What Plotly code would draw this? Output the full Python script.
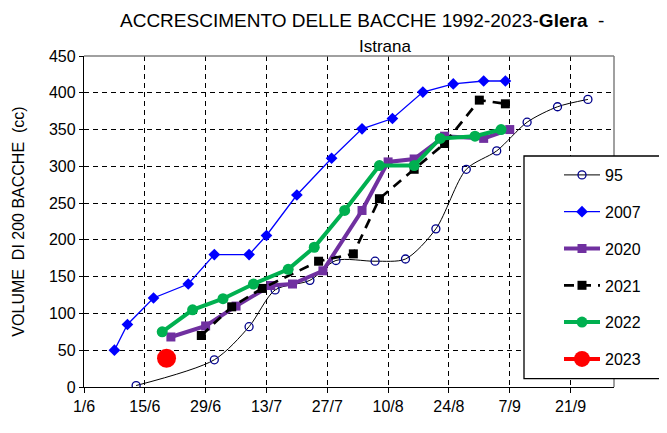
import plotly.graph_objects as go

# ---------------- data ----------------
x_95 = ["2023-06-13", "2023-07-01", "2023-07-09", "2023-07-15", "2023-07-23", "2023-07-29",
        "2023-08-07", "2023-08-14", "2023-08-21", "2023-08-28", "2023-09-04", "2023-09-11",
        "2023-09-18", "2023-09-25"]
y_95 = [2, 37, 82, 132, 145, 172, 171, 174, 215, 296, 321, 360, 381, 391]

x_2007 = ["2023-06-08", "2023-06-11", "2023-06-17", "2023-06-25", "2023-07-01", "2023-07-09",
          "2023-07-13", "2023-07-20", "2023-07-28", "2023-08-04", "2023-08-11", "2023-08-18",
          "2023-08-25", "2023-09-01", "2023-09-06"]
y_2007 = [50, 85, 121, 140, 180, 180, 206, 261, 311, 351, 365, 401, 412, 416, 416]

x_2020 = ["2023-06-21", "2023-06-29", "2023-07-06", "2023-07-14", "2023-07-19", "2023-07-26",
          "2023-08-04", "2023-08-10", "2023-08-16", "2023-08-23", "2023-09-01", "2023-09-07"]
y_2020 = [68, 83, 110, 138, 140, 158, 240, 306, 310, 341, 338, 350]

x_2021 = ["2023-06-28", "2023-07-05", "2023-07-12", "2023-07-25", "2023-08-02", "2023-08-08",
          "2023-08-16", "2023-08-23", "2023-08-31", "2023-09-06"]
y_2021 = [70, 109, 134, 171, 181, 256, 296, 331, 390, 385]

x_2022 = ["2023-06-19", "2023-06-26", "2023-07-03", "2023-07-10", "2023-07-18", "2023-07-24",
          "2023-07-31", "2023-08-08", "2023-08-16", "2023-08-22", "2023-08-30", "2023-09-05"]
y_2022 = [75, 105, 120, 140, 160, 190, 240, 301, 301, 338, 341, 350]

x_2023 = ["2023-06-20"]
y_2023 = [39]

tick_dates = ["2023-06-01", "2023-06-15", "2023-06-29", "2023-07-13", "2023-07-27",
              "2023-08-10", "2023-08-24", "2023-09-07", "2023-09-21"]
tick_labels = ["1/6", "15/6", "29/6", "13/7", "27/7", "10/8", "24/8", "7/9", "21/9"]
x_range = ["2023-06-01", "2023-10-01"]
y_ticks = list(range(0, 451, 50))

FONT = "Liberation Sans, Arial, sans-serif"

# screen-pixel helpers (page has an 8px body margin; plot area spans x 84..614, y 56..387 on screen)
def px(X):
    return (X - 84) / 530

def py(Y):
    return (387 - Y) / 331

fig = go.Figure()

fig.add_trace(go.Scatter(
    x=x_95, y=y_95, name="95", mode="lines+markers", legendgroup="a",
    line=dict(color="black", width=1, shape="spline", smoothing=0.8),
    marker=dict(symbol="circle-open", size=8, color="#00008B", line=dict(width=1.3, color="#00008B"))))
fig.add_trace(go.Scatter(
    x=x_2007, y=y_2007, name="2007", mode="lines+markers", legendgroup="b",
    line=dict(color="#0000FF", width=1.3),
    marker=dict(symbol="diamond", size=9, color="#0000FF")))
fig.add_trace(go.Scatter(
    x=x_2020, y=y_2020, name="2020", mode="lines+markers", legendgroup="c",
    line=dict(color="#7030A0", width=4),
    marker=dict(symbol="square", size=9, color="#7030A0")))
fig.add_trace(go.Scatter(
    x=x_2021, y=y_2021, name="2021", mode="lines+markers", legendgroup="d",
    line=dict(color="black", width=2.7, dash="10px,7px"),
    marker=dict(symbol="square", size=9, color="black")))
fig.add_trace(go.Scatter(
    x=x_2022, y=y_2022, name="2022", mode="lines+markers", legendgroup="e",
    line=dict(color="#00B050", width=4),
    marker=dict(symbol="circle", size=11, color="#00B050")))
fig.add_trace(go.Scatter(
    x=x_2023, y=y_2023, name="2023", mode="lines+markers", legendgroup="f",
    line=dict(color="#FF0000", width=4),
    marker=dict(symbol="circle", size=19, color="#FF0000")))

# plot frame (top / right in grey) and legend box
fig.add_shape(type="line", xref="paper", yref="paper", x0=0, x1=1, y0=1, y1=1,
              line=dict(color="#808080", width=1.5))
fig.add_shape(type="line", xref="paper", yref="paper", x0=1, x1=1, y0=0, y1=1,
              line=dict(color="#808080", width=1.5))
fig.add_shape(type="rect", xref="paper", yref="paper",
              x0=px(524), x1=1.4, y0=py(378.7), y1=py(156),
              line=dict(color="black", width=1.3), fillcolor="white", layer="above")

fig.update_layout(
    width=667, height=433,
    margin=dict(l=76, r=61, t=48, b=54, autoexpand=False),
    paper_bgcolor="white", plot_bgcolor="white",
    font=dict(family=FONT, size=16, color="black"),
    showlegend=True,
    legend=dict(x=px(559), y=py(158), xanchor="left", yanchor="top",
                bgcolor="rgba(0,0,0,0)", borderwidth=0,
                traceorder="grouped", tracegroupgap=13,
                font=dict(family=FONT, size=16, color="black"), itemwidth=36),
    annotations=[
        dict(text="ACCRESCIMENTO DELLE BACCHE 1992-2023-<b>Glera</b>  -", x=px(362), y=py(20),
             xref="paper", yref="paper", xanchor="center", yanchor="middle",
             showarrow=False, font=dict(size=19, family=FONT)),
        dict(text="Istrana", x=px(385), y=py(46), xref="paper", yref="paper",
             xanchor="center", yanchor="middle",
             showarrow=False, font=dict(size=17, family=FONT)),
    ],
)

fig.update_xaxes(
    type="date", range=x_range, tickvals=tick_dates, ticktext=tick_labels,
    showgrid=True, gridcolor="black", gridwidth=1, griddash="5px,4px",
    showline=True, linecolor="black", linewidth=1.3,
    ticks="outside", ticklen=5, tickcolor="black", tickwidth=1.3,
    tickfont=dict(size=16, family=FONT), zeroline=False)
fig.update_yaxes(
    range=[0, 450], tickvals=y_ticks,
    showgrid=True, gridcolor="black", gridwidth=1, griddash="5px,4px",
    showline=True, linecolor="black", linewidth=1.3,
    ticks="outside", ticklen=4, tickcolor="black", tickwidth=1.3,
    tickfont=dict(size=16, family=FONT), zeroline=False,
    title=dict(text="VOLUME  DI 200 BACCHE  (cc)", font=dict(size=16, family=FONT), standoff=20))

fig.write_html("out.html")
